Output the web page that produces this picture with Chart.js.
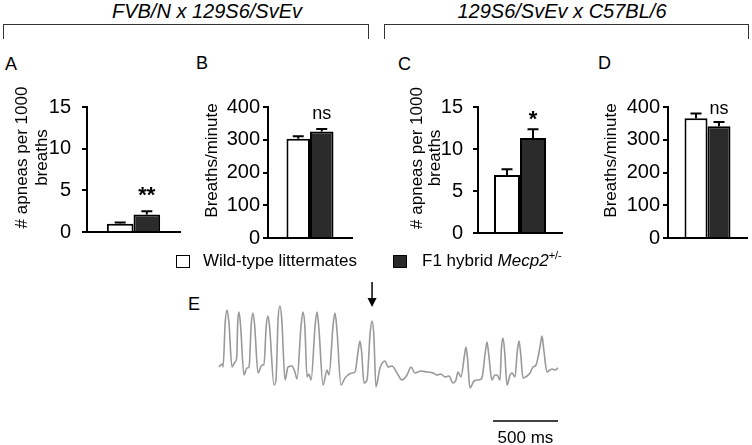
<!DOCTYPE html>
<html>
<head>
<meta charset="utf-8">
<script src="https://cdn.jsdelivr.net/npm/chart.js@4.4.0/dist/chart.umd.min.js"></script>
<style>
  html, body { margin: 0; padding: 0; background: #fff; }
  body { width: 752px; height: 445px; position: relative; overflow: hidden;
         font-family: "Liberation Sans", Arial, sans-serif; color: #000; }
  .lbl { position: absolute; line-height: 1; white-space: nowrap; }
  .head { position: absolute; width: 400px; text-align: center; font-style: italic;
          font-size: 20px; line-height: 1; white-space: nowrap; }
  .bracket { position: absolute; top: 24px; height: 15px; box-sizing: border-box;
             border: 1.5px solid #333; border-bottom: none; }
  .box { position: absolute; width: 14px; height: 13px; box-sizing: border-box; border: 1.5px solid #000; }
  canvas { position: absolute; }
  sup { font-size: 11px; line-height: 0; vertical-align: 7px; }
</style>
</head>
<body>

<div class="head" style="left:7px; top:1px;">FVB/N x 129S6/SvEv</div>
<div class="head" style="left:362px; top:1px;">129S6/SvEv x C57BL/6</div>
<div class="bracket" style="left:3px; width:366px;"></div>
<div class="bracket" style="left:384px; width:365px;"></div>

<div class="lbl" style="left:5px; top:55px; font-size:18px;">A</div>
<div class="lbl" style="left:196px; top:54px; font-size:18px;">B</div>
<div class="lbl" style="left:398px; top:55px; font-size:18px;">C</div>
<div class="lbl" style="left:598px; top:54px; font-size:18px;">D</div>
<div class="lbl" style="left:188px; top:295px; font-size:18px;">E</div>

<canvas id="panelA" width="185" height="175" style="left:0px; top:80px;"></canvas>
<canvas id="panelB" width="190" height="175" style="left:185px; top:80px;"></canvas>
<canvas id="panelC" width="190" height="175" style="left:375px; top:80px;"></canvas>
<canvas id="panelD" width="187" height="175" style="left:565px; top:80px;"></canvas>
<canvas id="trace" width="420" height="170" style="left:180px; top:275px;"></canvas>

<div class="box" style="left:176px; top:255px; background:#fff;"></div>
<div class="lbl" style="left:203px; top:252px; font-size:17px;">Wild-type littermates</div>
<div class="box" style="left:393px; top:255px; background:#2b2b2b;"></div>
<div class="lbl" style="left:422px; top:252px; font-size:17px;">F1 hybrid <i>Mecp2</i><sup>+/-</sup></div>

<script>
var groupNames = ["Wild-type littermates", "F1 hybrid Mecp2+/-"];

// FVB/N x 129S6/SvEv
var apneaFvbMean = [1.0, 2.1];
var apneaFvbSem = [0.15, 0.4];
var rateFvbMean = [303, 325];
var rateFvbSem = [8, 8];

// 129S6/SvEv x C57BL/6
var apneaC57Mean = [6.9, 11.3];
var apneaC57Sem = [0.7, 1.05];
var rateC57Mean = [366, 341];
var rateC57Sem = [14, 13];

var sigLabels = ["**", "ns", "*", "ns"];
var apneaTicks = [0, 5, 10, 15];
var rateTicks = [0, 100, 200, 300, 400];
var apneaTitle = ["# apneas per 1000", "breaths"];
var rateTitle = ["Breaths/minute"];

// panel E, plethysmography trace (time in ms, amplitude in arbitrary units)
var traceTimeMs = [0, 23, 31, 48, 62, 76, 100, 123, 136, 144, 154, 166, 192, 215, 231, 248,
  261, 274, 300, 331, 346, 363, 377, 391, 423, 438, 455, 469, 483, 508, 531, 561, 584, 600,
  632, 646, 660, 677, 692, 708, 740, 754, 768, 800, 831, 846, 878, 892, 906, 938, 969, 1023,
  1046, 1071, 1084, 1097, 1115, 1138, 1163, 1177, 1191, 1207, 1238, 1277, 1300, 1330, 1369,
  1407, 1446, 1476, 1507, 1553, 1600, 1646, 1676, 1707, 1738, 1769, 1799, 1822, 1838, 1861,
  1887, 1899, 1911, 1930, 1961, 1992, 2022, 2048, 2061, 2074, 2099, 2122, 2138, 2161, 2172,
  2184, 2197, 2215, 2238, 2253, 2276, 2294, 2307, 2320, 2338, 2369, 2392, 2415, 2438, 2470,
  2484, 2498, 2522, 2545, 2561, 2584, 2607];
var traceAmp = [25, 28, 25, 70, 82, 70, 25, 30, 34, 70, 80, 66, 17, 24, 25, 68,
  79, 67, 19, 27, 27, 66, 76, 62, 7, 12, 74, 86, 72, 12, 25, 26, 20, 13,
  68, 80, 66, 15, 18, 12, 68, 80, 64, 7, 22, 17, 68, 79, 64, 7, 14, 19,
  20, 42, 51, 40, 9, 12, 60, 71, 56, 5, 24, 31, 25, 26, 19,
  12, 17, 25, 19, 21, 20, 19, 17, 18, 15, 16, 9, 12, 20, 15,
  36, 45, 34, 4, 11, 12, 14, 40, 50, 38, 12, 17, 17, 12, 44,
  54, 40, 7, 17, 19, 15, 41, 51, 38, 14, 16, 19, 25, 27, 46,
  56, 42, 20, 22, 23, 22, 24];
var apneaOnsetMs = 1177;
var scaleBarMs = 500;

Chart.defaults.font.family = '"Liberation Sans", Arial, sans-serif';
Chart.defaults.color = "#000";

var errorBars = {
  id: "errorBars",
  afterDatasetsDraw: function (chart) {
    var ctx = chart.ctx, y = chart.scales.y;
    ctx.save();
    ctx.strokeStyle = "#000";
    ctx.lineWidth = 2;
    chart.data.datasets.forEach(function (ds, i) {
      chart.getDatasetMeta(i).data.forEach(function (bar, j) {
        var top = y.getPixelForValue(ds.data[j] + ds.errors[j]);
        ctx.beginPath();
        ctx.moveTo(bar.x, bar.y);
        ctx.lineTo(bar.x, top);
        ctx.moveTo(bar.x - 5.5, top);
        ctx.lineTo(bar.x + 5.5, top);
        ctx.stroke();
      });
    });
    ctx.restore();
  }
};

var sideTitle = {
  id: "sideTitle",
  afterDraw: function (chart, args, opts) {
    var a = chart.chartArea, ctx = chart.ctx;
    ctx.save();
    ctx.font = '17px "Liberation Sans", Arial, sans-serif';
    ctx.fillStyle = "#000";
    ctx.textAlign = "center";
    ctx.textBaseline = "middle";
    opts.lines.forEach(function (line, i) {
      ctx.save();
      ctx.translate(a.left + opts.offsets[i], (a.top + a.bottom) / 2 + opts.shift);
      ctx.rotate(-Math.PI / 2);
      ctx.fillText(line, 0, 0);
      ctx.restore();
    });
    ctx.restore();
  }
};

var sigLabel = {
  id: "sigLabel",
  afterDraw: function (chart, args, opts) {
    var ctx = chart.ctx;
    var ds = chart.data.datasets[1];
    var bar = chart.getDatasetMeta(1).data[0];
    var top = chart.scales.y.getPixelForValue(ds.data[0] + ds.errors[0]);
    ctx.save();
    ctx.fillStyle = "#000";
    ctx.font = opts.text == "ns" ? '18px "Liberation Sans", Arial, sans-serif'
                                 : 'bold 22px "Liberation Sans", Arial, sans-serif';
    ctx.textAlign = "center";
    ctx.textBaseline = "alphabetic";
    ctx.fillText(opts.text, bar.x, top - opts.gap);
    ctx.restore();
  }
};

function barPanel(id, means, sems, ticks, title, sig, look) {
  return new Chart(document.getElementById(id), {
    type: "bar",
    data: {
      labels: [""],
      datasets: [
        { label: groupNames[0], data: [means[0]], errors: [sems[0]],
          backgroundColor: "#ffffff", borderColor: "#000", borderWidth: 2 },
        { label: groupNames[1], data: [means[1]], errors: [sems[1]],
          backgroundColor: "#2b2b2b", borderColor: "#000", borderWidth: 2 }
      ]
    },
    options: {
      responsive: false,
      animation: false,
      layout: { padding: { top: 27, bottom: 17, left: 0, right: look.padRight } },
      datasets: { bar: { categoryPercentage: look.groupPct, barPercentage: 1 } },
      plugins: {
        legend: { display: false },
        tooltip: { enabled: false },
        sideTitle: { lines: title, offsets: look.titleOffsets, shift: -12 },
        sigLabel: { text: sig, gap: look.sigGap }
      },
      scales: {
        x: {
          grid: { display: false },
          ticks: { display: false },
          border: { display: true, color: "#000", width: 2 },
          afterFit: function (s) { s.height = 0; }
        },
        y: {
          min: ticks[0],
          max: ticks[ticks.length - 1],
          afterBuildTicks: function (s) {
            s.ticks = ticks.map(function (v) { return { value: v }; });
          },
          ticks: { font: { size: 20 }, color: "#000", padding: look.tickPad },
          grid: { drawOnChartArea: false, drawTicks: true, tickLength: 5, color: "#000", lineWidth: 2 },
          border: { display: true, color: "#000", width: 2 },
          afterFit: function (s) { s.width = look.axisWidth; }
        }
      }
    },
    plugins: [errorBars, sideTitle, sigLabel]
  });
}

barPanel("panelA", apneaFvbMean, apneaFvbSem, apneaTicks, apneaTitle, sigLabels[0],
  { axisWidth: 87, padRight: 5, groupPct: 0.573, tickPad: 11, titleOffsets: [-65, -45], sigGap: 9 });
barPanel("panelB", rateFvbMean, rateFvbSem, rateTicks, rateTitle, sigLabels[1],
  { axisWidth: 83, padRight: 23, groupPct: 0.56, tickPad: 3, titleOffsets: [-56], sigGap: 10 });
barPanel("panelC", apneaC57Mean, apneaC57Sem, apneaTicks, apneaTitle, sigLabels[2],
  { axisWidth: 103, padRight: 3, groupPct: 0.619, tickPad: 10, titleOffsets: [-61, -43], sigGap: 3 });
barPanel("panelD", rateC57Mean, rateC57Sem, rateTicks, rateTitle, sigLabels[3],
  { axisWidth: 103, padRight: 5, groupPct: 0.582, tickPad: 3, titleOffsets: [-57], sigGap: 8 });

var arrowMark = {
  id: "arrowMark",
  afterDraw: function (chart) {
    var ctx = chart.ctx, xs = chart.scales.x, ys = chart.scales.y;
    var idx = traceTimeMs.indexOf(apneaOnsetMs);
    var x = xs.getPixelForValue(apneaOnsetMs);
    var tip = ys.getPixelForValue(traceAmp[idx]) - 14;
    ctx.save();
    ctx.strokeStyle = "#000";
    ctx.fillStyle = "#000";
    ctx.lineWidth = 1.5;
    ctx.beginPath();
    ctx.moveTo(x, tip - 25);
    ctx.lineTo(x, tip - 6);
    ctx.stroke();
    ctx.beginPath();
    ctx.moveTo(x - 4.5, tip - 9);
    ctx.lineTo(x + 4.5, tip - 9);
    ctx.lineTo(x, tip);
    ctx.closePath();
    ctx.fill();
    ctx.restore();
  }
};

var scaleBar = {
  id: "scaleBar",
  afterDraw: function (chart) {
    var ctx = chart.ctx, xs = chart.scales.x;
    var end = traceTimeMs[traceTimeMs.length - 1];
    var x1 = xs.getPixelForValue(end - scaleBarMs), x2 = xs.getPixelForValue(end);
    var y = chart.chartArea.bottom + 29;
    ctx.save();
    ctx.strokeStyle = "#000";
    ctx.lineWidth = 1.5;
    ctx.beginPath();
    ctx.moveTo(x1, y);
    ctx.lineTo(x2, y);
    ctx.stroke();
    ctx.fillStyle = "#000";
    ctx.font = '17px "Liberation Sans", Arial, sans-serif';
    ctx.textAlign = "center";
    ctx.textBaseline = "alphabetic";
    ctx.fillText(scaleBarMs + " ms", (x1 + x2) / 2, y + 22);
    ctx.restore();
  }
};

new Chart(document.getElementById("trace"), {
  type: "line",
  data: {
    datasets: [{
      data: traceTimeMs.map(function (t, i) { return { x: t, y: traceAmp[i] }; }),
      borderColor: "#999999",
      borderWidth: 1.6,
      pointRadius: 0,
      cubicInterpolationMode: "monotone",
      clip: false
    }]
  },
  options: {
    responsive: false,
    animation: false,
    layout: { padding: { left: 39, right: 42, top: 25, bottom: 53 } },
    plugins: { legend: { display: false }, tooltip: { enabled: false } },
    scales: {
      x: { type: "linear", display: false, min: 0, max: traceTimeMs[traceTimeMs.length - 1] },
      y: { display: false, min: 0, max: 92 }
    }
  },
  plugins: [arrowMark, scaleBar]
});
</script>
</body>
</html>
